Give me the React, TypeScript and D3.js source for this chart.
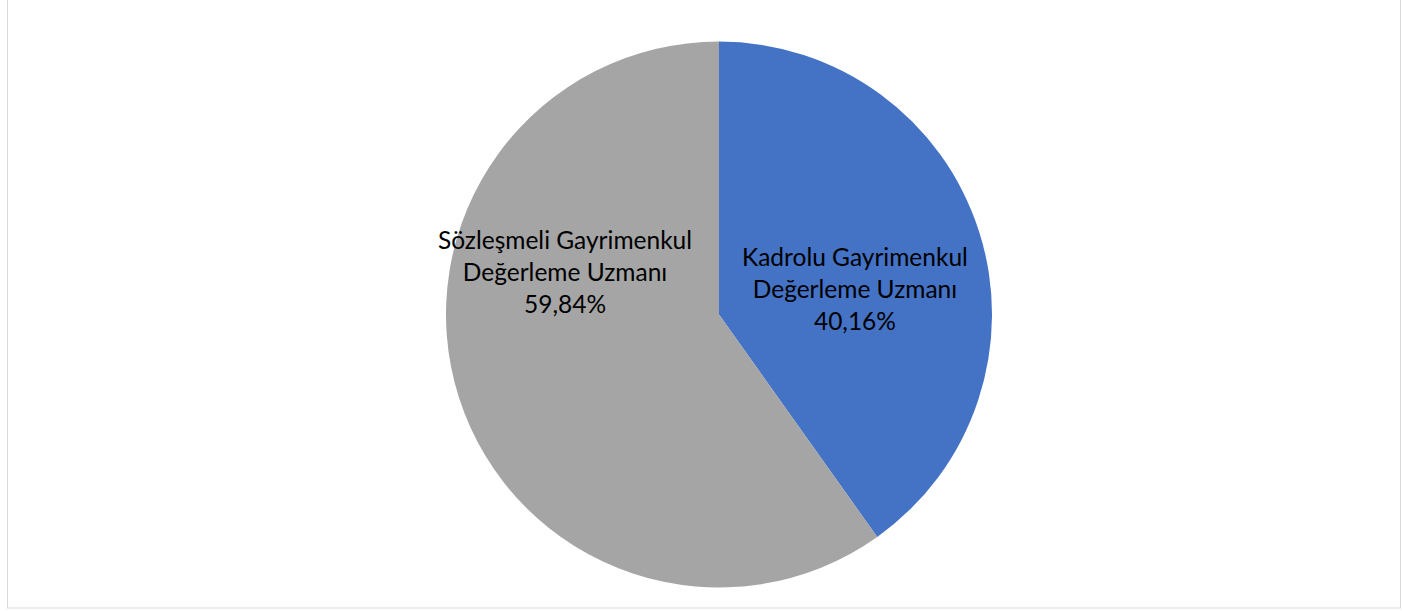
import React, { useEffect, useRef } from 'react'
import * as d3 from 'd3'

// pie data: Kadrolu vs Sözleşmeli gayrimenkul değerleme uzmanı
const categories = ['Kadrolu Gayrimenkul Değerleme Uzmanı', 'Sözleşmeli Gayrimenkul Değerleme Uzmanı']
const labelLines = [
  ['Kadrolu Gayrimenkul', 'Değerleme Uzmanı'],
  ['Sözleşmeli Gayrimenkul', 'Değerleme Uzmanı'],
]
const values = [40.16, 59.84]
const colors = ['#4472C4', '#A5A5A5']

export default function App() {
  const ref = useRef<SVGSVGElement | null>(null)

  useEffect(() => {
    const W = 1402
    const H = 611
    const cx = 719
    const cy = 314.5
    const r = 273

    const svg = d3.select(ref.current)
    svg.selectAll('*').remove()
    svg.attr('width', W).attr('height', H)

    // chart border
    svg.append('rect')
      .attr('x', 7.5)
      .attr('y', -1)
      .attr('width', 1393)
      .attr('height', 609)
      .attr('fill', '#fff')
      .attr('stroke', '#D9D9D9')
      .attr('stroke-width', 1)

    const data = categories.map((c, i) => ({ name: c, value: values[i], lines: labelLines[i], color: colors[i] }))

    const pie = d3.pie<any>().value(d => d.value).sort(null)
    const arc = d3.arc<any>().innerRadius(0).outerRadius(r)
    const arcs = pie(data)

    const g = svg.append('g').attr('transform', `translate(${cx},${cy})`)

    g.selectAll('path')
      .data(arcs)
      .enter()
      .append('path')
      .attr('d', arc)
      .attr('fill', d => d.data.color)

    // label anchors (best fit, in radius units)
    const labelPos = [[0.498, -0.062], [-0.564, -0.121]]
    const lh = 32

    arcs.forEach((a, i) => {
      const t = g.append('text')
        .attr('text-anchor', 'middle')
        .attr('font-family', 'Lato, "Open Sans", sans-serif')
        .attr('font-size', 24.5)
        .attr('fill', '#000')
      const lines = [...a.data.lines, a.data.value.toFixed(2).replace('.', ',') + '%']
      lines.forEach((ln, j) => {
        t.append('tspan')
          .attr('x', labelPos[i][0] * r)
          .attr('y', labelPos[i][1] * r + (j - 1) * lh)
          .text(ln)
      })
    })
  }, [])

  return (
    <div style={{ position: 'absolute', left: 0, top: 0 }}>
      <svg ref={ref}></svg>
    </div>
  )
}
